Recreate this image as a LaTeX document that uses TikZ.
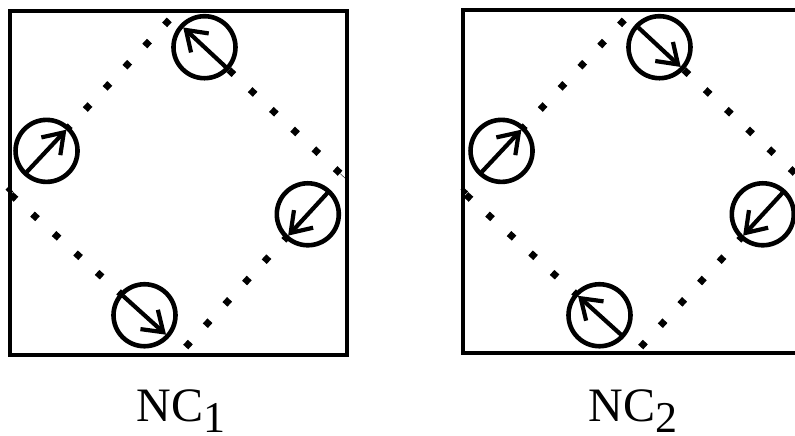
\documentclass[tikz,border=0pt]{standalone}
\usepackage{fontspec}
\setmainfont{Liberation Serif}
\usetikzlibrary{calc,arrows.meta}
\tikzset{
  frame/.style={line width=4.8pt},
  dotline/.style={line width=6.8pt, dash pattern=on 6.8pt off 22.2pt, dash phase=25pt},
  spin/.style={circle, draw, fill=white, line width=4.6pt, minimum size=62pt, inner sep=0pt},
  spinarrow/.style={line width=4.2pt, -{Straight Barb[length=19pt,width=26pt,line width=4.2pt]}},
  lab/.style={font=\fontsize{48}{48}\selectfont, inner sep=0pt, anchor=base}
}
\newcommand{\subone}[1]{\raisebox{-11pt}[0pt][0pt]{\fontsize{44}{44}\selectfont #1}}
\begin{document}
\begin{tikzpicture}[x=1pt,y=-1pt]
\useasboundingbox (0,0) rectangle (795,436);
\begin{scope}
\clip (0,0) rectangle (795,436);
% ---------- NC1 ----------
\draw[frame] (10,11) rectangle (347,355);
\coordinate (T1) at (172,17);
\coordinate (R1) at (343,176);
\coordinate (B1) at (183,350);
\coordinate (L1) at (8,192);
\draw[dotline] (T1) -- (L1);
\draw[dotline] (L1) -- (B1);
\draw[dotline] (B1) -- (R1);
\draw[dotline] (R1) -- (T1);
\node[spin] (ct1) at ($(T1)!0.19!(R1)$) {};
\node[spin] (cr1) at ($(R1)!0.22!(B1)$) {};
\node[spin] (cb1) at ($(B1)!0.22!(L1)$) {};
\node[spin] (cl1) at ($(L1)!0.235!(T1)$) {};
\draw[spinarrow] ($(ct1)!29pt!(R1)$) -- ($(ct1)!29pt!(T1)$);
\draw[spinarrow] ($(cl1)!29pt!(L1)$) -- ($(cl1)!29pt!(T1)$);
\draw[spinarrow] ($(cr1)!29pt!(R1)$) -- ($(cr1)!29pt!(B1)$);
\draw[spinarrow] ($(cb1)!29pt!(L1)$) -- ($(cb1)!29pt!(B1)$);
% ---------- NC2 ----------
\draw[frame] (805,10) -- (463,10) -- (463,353) -- (805,353);
\coordinate (T2) at (627,17);
\coordinate (R2) at (798,176);
\coordinate (B2) at (638,350);
\coordinate (L2) at (463,192);
\draw[dotline] (T2) -- (L2);
\draw[dotline] (L2) -- (B2);
\draw[dotline] (B2) -- (R2);
\draw[dotline] (R2) -- (T2);
\node[spin] (ct2) at ($(T2)!0.19!(R2)$) {};
\node[spin] (cr2) at ($(R2)!0.22!(B2)$) {};
\node[spin] (cb2) at ($(B2)!0.22!(L2)$) {};
\node[spin] (cl2) at ($(L2)!0.235!(T2)$) {};
\draw[spinarrow] ($(ct2)!29pt!(T2)$) -- ($(ct2)!29pt!(R2)$);
\draw[spinarrow] ($(cl2)!29pt!(L2)$) -- ($(cl2)!29pt!(T2)$);
\draw[spinarrow] ($(cr2)!29pt!(R2)$) -- ($(cr2)!29pt!(B2)$);
\draw[spinarrow] ($(cb2)!29pt!(B2)$) -- ($(cb2)!29pt!(L2)$);
\end{scope}
% ---------- labels ----------
\node[lab] (lab1) at (181,421) {NC\subone{1}};
\node[lab] (lab2) at (633,421) {NC\subone{2}};
\end{tikzpicture}
\end{document}
